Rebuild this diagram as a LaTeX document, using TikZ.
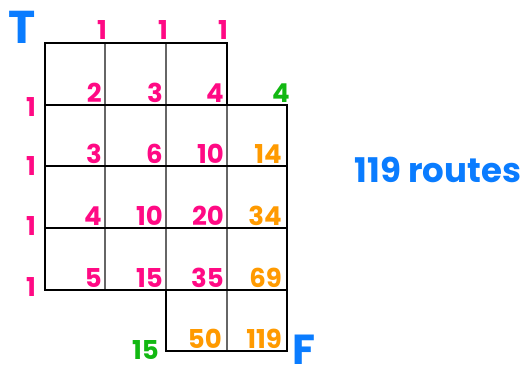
\documentclass[tikz,border=0pt]{standalone}
\usepackage{fontspec}
\setmainfont{Poppins}
\usetikzlibrary{positioning}
\definecolor{pathcol}{HTML}{FF0A84}
\definecolor{edgecol}{HTML}{12B812}
\definecolor{sumcol}{HTML}{FF9A00}
\definecolor{markcol}{HTML}{0A7CFF}

\begin{document}
\begin{tikzpicture}[x=1pt, y=-1pt,
  cnt/.style={font=\fontsize{26}{26}\selectfont\bfseries, inner sep=0pt, anchor=base east},
  one/.style={font=\fontsize{26}{26}\selectfont\bfseries, inner sep=0pt, text=pathcol},
  big/.style={font=\fontsize{46}{46}\selectfont\bfseries, inner sep=0pt, text=markcol}]
\useasboundingbox (0,0) rectangle (522,381);

% ---------------------------------------------------------------- grid
\draw[black!60, line width=1.4pt] (105,43) -- (105,290);
\draw[black!60, line width=1.4pt] (166,43) -- (166,290);
\draw[black!60, line width=1.4pt] (227,105) -- (227,351);
\foreach \y in {105,166,228} \draw[black, line width=1.4pt] (45,\y) -- (287,\y);
\draw[black, line width=1.4pt] (166,290) -- (287,290);
\draw[black, line width=1.6pt] (45,43) -- (227,43) -- (227,105) -- (287,105)
  -- (287,351) -- (166,351) -- (166,290) -- (45,290) -- cycle;

% ------------------------------------------------------ edge counts (1s)
\foreach \x in {102,163,223} \node[one] (top-\x) at (\x,30) {1};
\foreach \y in {107,166,226,287} \node[one] (left-\y) at (31,\y) {1};

% ------------------------------------------------------- summed counts
\foreach \x/\y/\n in {105/105/2, 166/105/3, 227/105/4,
                      105/166/3, 166/166/6, 227/166/10,
                      105/228/4, 166/228/10, 227/228/20,
                      105/290/5, 166/290/15, 227/290/35}
  \node[cnt, text=pathcol] (n-\x-\y) at (\x-3,\y-3) {\n};
\foreach \x/\y/\n in {287/166/14, 287/228/34, 287/290/69, 227/351/50, 287/351/119}
  \node[cnt, text=sumcol] (n-\x-\y) at (\x-5,\y-3) {\n};

% the two dead-end corners
\node[cnt, text=edgecol] (end-top) at (290,102) {4};
\node[cnt, text=edgecol] (end-low) at (159,359) {15};

% ------------------------------------------------------- start, finish, total
\node[big] (start) at (22,27) {T};
\node[big, font=\fontsize{42}{42}\selectfont\bfseries] (finish) at (304,350) {F};
\node[big, font=\fontsize{34}{34}\selectfont\bfseries] (total) at (438,170) {119 routes};

\end{tikzpicture}
\end{document}
